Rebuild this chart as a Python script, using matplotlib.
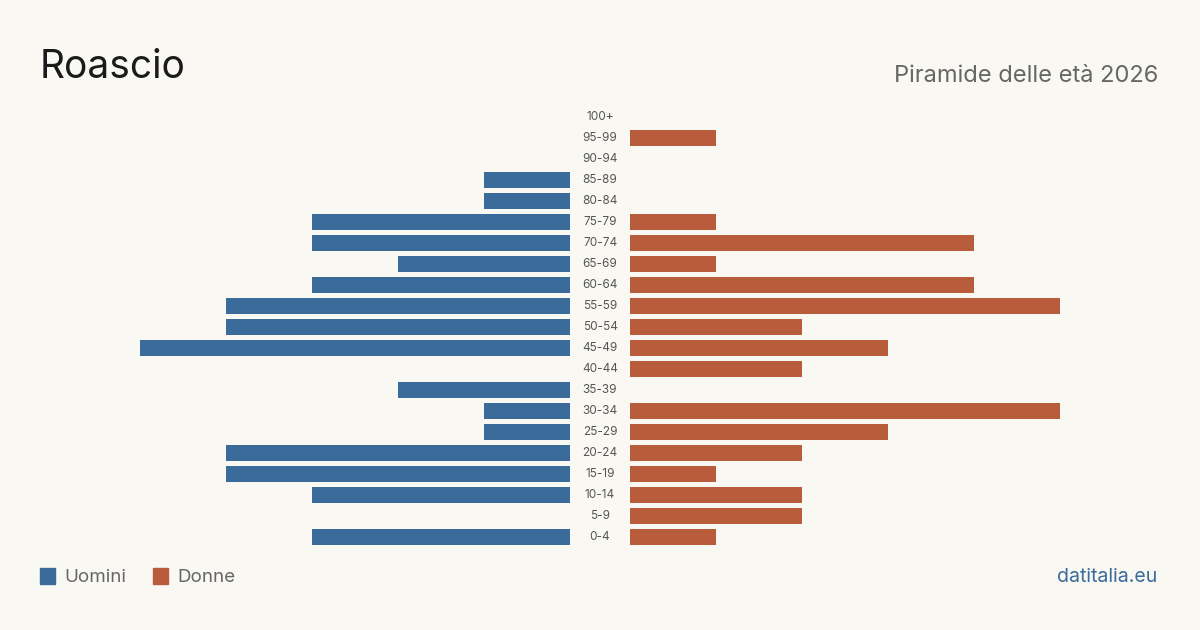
import matplotlib
matplotlib.use('Agg')
import matplotlib.pyplot as plt
from matplotlib.patches import Rectangle

ages = ['0-4', '5-9', '10-14', '15-19', '20-24', '25-29', '30-34', '35-39', '40-44',
        '45-49', '50-54', '55-59', '60-64', '65-69', '70-74', '75-79', '80-84',
        '85-89', '90-94', '95-99', '100+']
uomini = [3, 0, 3, 4, 4, 1, 1, 2, 0, 5, 4, 4, 3, 2, 3, 3, 1, 1, 0, 0, 0]
donne = [1, 2, 2, 1, 2, 3, 5, 0, 2, 3, 2, 5, 4, 1, 4, 1, 0, 0, 0, 1, 0]

bg = '#f9f8f3'
blue = '#3b6b9b'
orange = '#b95c3c'
W, H = 1200, 630

fig = plt.figure(figsize=(12, 6.3), dpi=100, facecolor=bg)
plt.rcParams['font.family'] = ['Inter', 'DejaVu Sans']

y0, y1 = 106.5, 547.5  # pixel top/bottom of plotting rows
axl = fig.add_axes([140 / W, 1 - y1 / H, 430 / W, (y1 - y0) / H])
axr = fig.add_axes([630 / W, 1 - y1 / H, 430 / W, (y1 - y0) / H])
ypos = list(range(len(ages)))
axl.barh(ypos, uomini, height=0.8, color=blue)
axr.barh(ypos, donne, height=0.8, color=orange)
axl.set_xlim(5, 0)
axr.set_xlim(0, 5)
for ax in (axl, axr):
    ax.set_ylim(-0.5, len(ages) - 0.5)
    ax.axis('off')

for i, a in enumerate(ages):
    fig.text(600 / W, 1 - (537 - 21 * i) / H, a, ha='center', va='center',
             fontsize=8.5, color='#555555')

fig.text(40 / W, 1 - 67 / H, 'Roascio', fontsize=28, color='#1a1a1a',
         ha='left', va='center')
fig.text(1158 / W, 1 - 76 / H, 'Piramide delle età 2026', fontsize=17,
         color='#666666', ha='right', va='center')

fig.patches.append(Rectangle((40 / W, 1 - 584 / H), 15 / W, 16 / H,
                             transform=fig.transFigure, color=blue))
fig.text(64 / W, 1 - 577 / H, 'Uomini', fontsize=13.5, color='#666666',
         ha='left', va='center')
fig.patches.append(Rectangle((153 / W, 1 - 584 / H), 15 / W, 16 / H,
                             transform=fig.transFigure, color=orange))
fig.text(177 / W, 1 - 577 / H, 'Donne', fontsize=13.5, color='#666666',
         ha='left', va='center')
fig.text(1157 / W, 1 - 577 / H, 'datitalia.eu', fontsize=14, color=blue,
         ha='right', va='center')

plt.savefig('out.png', dpi=100, facecolor=bg)
